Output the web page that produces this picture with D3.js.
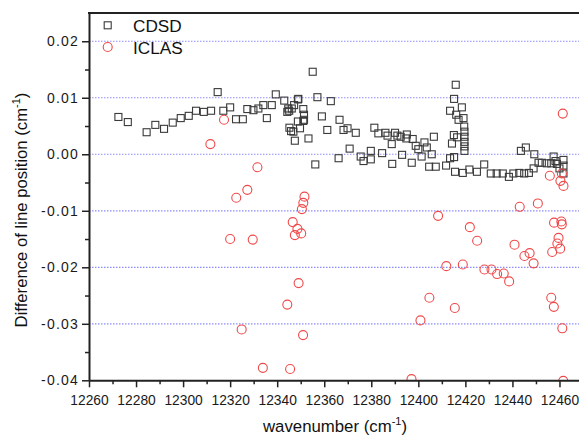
<!DOCTYPE html>
<html>
<head>
<meta charset="utf-8">
<script src="https://cdn.jsdelivr.net/npm/d3@7"></script>
<style>
  body { margin: 0; background: #fff; }
  svg { display: block; font-family: "Liberation Sans", Arial, sans-serif; }
</style>
</head>
<body>
<svg id="chart" width="579" height="436"></svg>
<script>
// CDSD differences (wavenumber, difference)
const cdsdWn = [12272.5, 12276.5, 12284.5, 12288.2, 12291.9, 12295.6, 12299.0, 12302.4, 12305.5, 12308.8,
  12311.9, 12314.7, 12317.1, 12320.0, 12322.5, 12325.4, 12327.3, 12329.9, 12332.0, 12334.1,
  12335.6, 12337.7, 12339.4, 12343.0, 12344.3, 12344.7, 12345.1, 12345.2, 12345.9, 12346.2,
  12346.9, 12347.2, 12347.5, 12348.8, 12348.8, 12349.0, 12349.7, 12351.1, 12351.1, 12351.4,
  12351.4, 12353.3, 12355.1, 12356.2, 12357.1, 12359.0, 12361.3, 12362.8, 12366.1, 12366.5,
  12368.2, 12369.9, 12370.8, 12373.4, 12375.5, 12376.7, 12379.8, 12379.8, 12381.3, 12383.0,
  12384.6, 12386.0, 12386.9, 12388.7, 12388.9, 12390.1, 12391.1, 12392.5, 12393.1, 12394.9,
  12395.1, 12397.2, 12397.6, 12398.9, 12400.0, 12401.4, 12402.6, 12403.6, 12404.6, 12405.7,
  12406.6, 12407.4, 12411.8, 12413.5, 12413.5, 12414.3, 12415.1, 12415.2, 12415.2, 12415.6,
  12415.9, 12416.1, 12417.1, 12416.5, 12418.5, 12418.9, 12419.2, 12419.5, 12419.6, 12419.6,
  12419.6, 12419.6, 12419.6, 12421.7, 12424.9, 12428.0, 12430.8, 12433.3, 12435.9, 12438.5,
  12440.4, 12442.9, 12443.6, 12445.0, 12445.7, 12447.0, 12449.0, 12449.3, 12451.1, 12452.5,
  12454.6, 12456.5, 12457.5, 12458.9, 12458.3, 12460.0, 12461.7, 12461.7, 12461.7];
const cdsdDiff = [0.0066, 0.0057, 0.0039, 0.0052, 0.0045, 0.0056, 0.0064, 0.0068, 0.0077, 0.0075,
  0.0077, 0.0110, 0.0077, 0.0083, 0.0062, 0.0062, 0.0080, 0.0078, 0.0081, 0.0087,
  0.0064, 0.0087, 0.0106, 0.0095, 0.0075, 0.0081, 0.0077, 0.0047, 0.0041, 0.0081,
  0.0040, 0.0087, 0.0024, 0.0097, 0.0058, 0.0098, 0.0046, 0.0080, 0.0059, 0.0070,
  0.0061, 0.0028, 0.0146, -0.0018, 0.0101, 0.0067, 0.0043, 0.0094, -0.0007, 0.0061,
  0.0043, 0.0046, 0.0010, 0.0038, -0.0004, -0.0012, 0.0006, -0.0009, 0.0047, 0.0037,
  0.0002, 0.0038, 0.0033, 0.0018, -0.0017, 0.0038, 0.0033, 0.0031, -0.0001, 0.0028,
  0.0035, -0.0015, 0.0027, 0.0015, 0.0009, -0.0004, 0.0021, 0.0012, -0.0022, 0.0000,
  0.0031, -0.0022, -0.0020, -0.0007, 0.0077, 0.0019, 0.0034, 0.0098, -0.0005, -0.0031,
  0.0123, 0.0070, 0.0061, 0.0030, 0.0083, -0.0033, 0.0064, 0.0049, 0.0040, 0.0031,
  0.0022, 0.0014, 0.0006, -0.0027, -0.0031, -0.0018, -0.0034, -0.0034, -0.0034, -0.0040,
  -0.0034, -0.0033, 0.0006, -0.0034, 0.0012, -0.0033, -0.0025, 0.0000, -0.0015, -0.0015,
  -0.0016, -0.0016, -0.0004, -0.0017, -0.0012, -0.0025, -0.0010, -0.0020, -0.0034];

// ICLAS differences
const iclasWn = [12311.6, 12317.4, 12331.6, 12327.3, 12322.6, 12351.6, 12351.1, 12350.5, 12346.6, 12348.6,
  12347.5, 12350.2, 12320.0, 12329.6, 12349.1, 12344.3, 12324.9, 12351.0, 12333.9, 12345.5,
  12408.4, 12421.9, 12425.0, 12411.9, 12418.9, 12428.1, 12431.1, 12433.5, 12436.3, 12438.6,
  12443.1, 12450.8, 12440.9, 12445.1, 12447.3, 12449.0, 12404.7, 12415.5, 12400.9, 12397.1,
  12455.9, 12461.0, 12460.4, 12461.7, 12457.7, 12460.8, 12461.0, 12459.6, 12459.1, 12460.3,
  12456.9, 12456.5, 12457.6, 12461.2, 12461.6, 12461.4];
const iclasDiff = [0.0018, 0.0061, -0.0023, -0.0063, -0.0077, -0.0075, -0.0086, -0.0097, -0.0120, -0.0132,
  -0.0143, -0.0140, -0.0150, -0.0151, -0.0228, -0.0266, -0.0310, -0.0320, -0.0378, -0.0380,
  -0.0109, -0.0129, -0.0153, -0.0198, -0.0195, -0.0204, -0.0204, -0.0212, -0.0211, -0.0225,
  -0.0093, -0.0087, -0.0160, -0.0180, -0.0175, -0.0193, -0.0254, -0.0272, -0.0294, -0.0398,
  -0.0038, -0.0034, -0.0047, -0.0056, -0.0121, -0.0119, -0.0124, -0.0148, -0.0158, -0.0167,
  -0.0173, -0.0254, -0.0270, -0.0308, -0.0401, 0.0072];

const xTicks = d3.range(12260, 12461, 20);
const xMinor = d3.range(12270, 12470, 20);
const yTicks = [-0.04, -0.03, -0.02, -0.01, 0.00, 0.01, 0.02];
const yMinor = [-0.035, -0.025, -0.015, -0.005, 0.005, 0.015];
const gridVals = [-0.03, -0.02, -0.01, 0.00, 0.01, 0.02];

const plotLeft = 89, plotTop = 13, plotBottom = 380.3, plotRight = 583;

const svg = d3.select('#chart');
const x = d3.scaleLinear().domain([12260, 12470]).range([plotLeft, plotRight]);
const y = d3.scaleLinear().domain([-0.04, 0.025]).range([plotBottom, plotTop]);

svg.append('clipPath').attr('id', 'plot')
   .append('rect').attr('x', plotLeft).attr('y', plotTop)
   .attr('width', plotRight - plotLeft).attr('height', plotBottom - plotTop);

// dotted grid
svg.append('g').selectAll('line')
   .data(gridVals)
   .enter()
   .append('line')
   .attr('x1', plotLeft).attr('x2', plotRight)
   .attr('y1', (d) => y(d)).attr('y2', (d) => y(d))
   .attr('stroke', '#8c8cff')
   .attr('stroke-width', 1.2)
   .attr('stroke-dasharray', '1.5,1.5');

// points
const plot = svg.append('g').attr('clip-path', 'url(#plot)');
const sq = 7;
plot.selectAll('rect.cdsd')
    .data(cdsdWn.map((w, i) => [w, cdsdDiff[i]]))
    .enter()
    .append('rect')
    .attr('class', 'cdsd')
    .attr('x', (d) => x(d[0]) - sq / 2)
    .attr('y', (d) => y(d[1]) - sq / 2)
    .attr('width', sq).attr('height', sq)
    .attr('fill', 'none')
    .attr('stroke', '#3a3a3a')
    .attr('stroke-width', 1.1);

plot.selectAll('circle.iclas')
    .data(iclasWn.map((w, i) => [w, iclasDiff[i]]))
    .enter()
    .append('circle')
    .attr('class', 'iclas')
    .attr('cx', (d) => x(d[0]))
    .attr('cy', (d) => y(d[1]))
    .attr('r', 4.5)
    .attr('fill', 'none')
    .attr('stroke', '#f04848')
    .attr('stroke-width', 1.1);

// axes
const fmtY = (d) => d3.format('.2f')(d).replace('\u2212', '-');
const xAxis = svg.append('g').attr('transform', `translate(0,${plotBottom})`)
   .call(d3.axisBottom(x).tickValues(xTicks).tickFormat(d3.format('d')).tickSize(7).tickSizeOuter(0));
svg.append('g').attr('transform', `translate(0,${plotBottom})`)
   .call(d3.axisBottom(x).tickValues(xMinor).tickFormat('').tickSize(4).tickSizeOuter(0))
   .select('.domain').remove();
const yAxis = svg.append('g').attr('transform', `translate(${plotLeft},0)`)
   .call(d3.axisLeft(y).tickValues(yTicks).tickFormat(fmtY).tickSize(7).tickSizeOuter(0));
svg.append('g').attr('transform', `translate(${plotLeft},0)`)
   .call(d3.axisLeft(y).tickValues(yMinor).tickFormat('').tickSize(4).tickSizeOuter(0))
   .select('.domain').remove();

svg.selectAll('.domain').attr('stroke', '#222').attr('stroke-width', 2);
svg.selectAll('.tick line').attr('stroke', '#222').attr('stroke-width', 1.5);
xAxis.selectAll('text').attr('font-size', 13.8).attr('fill', '#1a1a1a').attr('dy', '1.05em');
yAxis.selectAll('text').attr('font-size', 14).attr('fill', '#1a1a1a')
     .attr('letter-spacing', 1.2).attr('x', -10);

// top frame
svg.append('line')
   .attr('x1', plotLeft - 1).attr('x2', plotRight)
   .attr('y1', plotTop).attr('y2', plotTop)
   .attr('stroke', '#222').attr('stroke-width', 2);

// axis titles
const xt = svg.append('text')
   .attr('x', 335).attr('y', 432)
   .attr('text-anchor', 'middle')
   .attr('font-size', 16.8).attr('fill', '#111');
xt.append('tspan').text('wavenumber (cm');
xt.append('tspan').attr('dy', -7).attr('font-size', 11).text('-1');
xt.append('tspan').attr('dy', 7).text(')');

const yt = svg.append('text')
   .attr('transform', 'translate(27,210) rotate(-90)')
   .attr('text-anchor', 'middle')
   .attr('font-size', 16.7).attr('fill', '#111');
yt.append('tspan').text('Difference of line position (cm');
yt.append('tspan').attr('dy', -7).attr('font-size', 11).text('-1');
yt.append('tspan').attr('dy', 7).text(')');

// legend
svg.append('rect')
   .attr('x', 107.7 - sq / 2).attr('y', 25.3 - sq / 2)
   .attr('width', sq).attr('height', sq)
   .attr('fill', 'none').attr('stroke', '#3a3a3a').attr('stroke-width', 1.1);
svg.append('circle')
   .attr('cx', 107.7).attr('cy', 47).attr('r', 4.5)
   .attr('fill', 'none').attr('stroke', '#f04848').attr('stroke-width', 1.1);
svg.append('text').attr('x', 133).attr('y', 31.5).attr('font-size', 17.2).attr('fill', '#111').text('CDSD');
svg.append('text').attr('x', 133).attr('y', 53.5).attr('font-size', 17.2).attr('fill', '#111').text('ICLAS');
</script>
</body>
</html>
